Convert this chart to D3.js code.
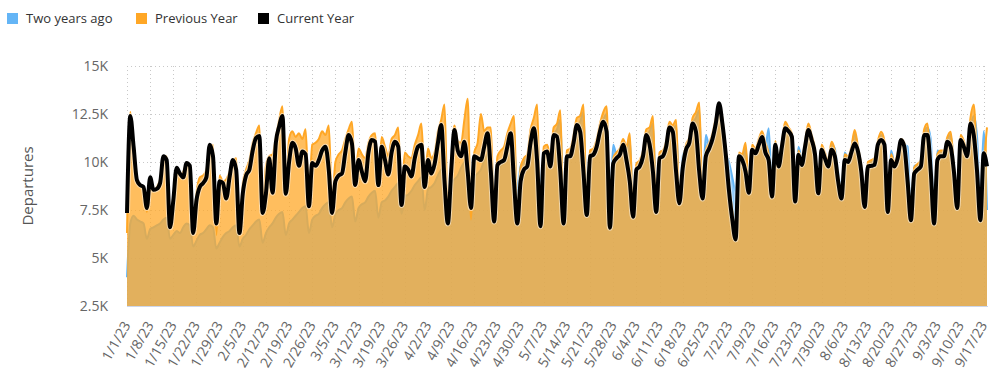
<!DOCTYPE html>
<html>
<head>
<meta charset="utf-8">
<script src="https://cdn.jsdelivr.net/npm/d3@7"></script>
<style>
  body { margin: 0; background: #fff; }
  svg { font-family: "Open Sans", sans-serif; }
  .grid line { stroke: #c8c8c8; stroke-dasharray: 1,3; }
  .ylab { font-size: 14px; fill: #666; }
  .xlab { font-size: 14px; fill: #666; }
  .legend text { font-size: 13px; fill: #333; }
</style>
</head>
<body>
<svg id="chart" width="1000" height="384"></svg>
<script>
// daily departures, 1/1/23 .. 9/18/23
var startDay = "2023-01-01", endDay = "2023-09-18";

var currentYear = [
7340,12400,10800,9060,8800,8700,7600,
9200,8550,8600,8900,10300,10100,6600,
8000,9700,9400,9200,9950,9800,6300,
8000,8700,8900,9200,10900,10300,6800,
9000,8900,8100,9200,10100,9600,6300,
8350,9300,9600,10600,11250,11350,7350,
8350,10200,8400,11000,11850,12400,8350,
10000,11000,10700,9800,10550,10400,7700,
9950,9800,10100,10600,10800,9600,7350,
9000,9300,9400,10500,11400,10970,8800,
10100,9500,9000,10500,11150,11060,8800,
10800,10100,9350,10500,11060,10800,7760,
9770,9600,9250,10200,10800,10900,8700,
10100,9400,9900,11000,11930,9000,6800,
9500,11670,10600,10300,11060,9500,7600,
10300,10200,10100,10800,11500,9500,6900,
9850,10000,10100,10800,11500,9000,6800,
9000,9600,9770,11000,11760,10000,6660,
10450,10550,9770,11400,11320,9500,6800,
10300,10300,11000,11930,11580,9500,7240,
10300,10380,10800,11600,12100,11580,6580,
9930,10200,10380,10900,10100,9000,7150,
9600,9770,10300,11400,10900,9500,7400,
10200,10300,10800,11800,11580,9500,7850,
9680,10640,11000,12000,11580,9500,8100,
10300,10700,11200,12000,13060,12000,10450,
8500,7000,5970,10300,10100,9500,8400,
10640,10450,10900,11300,10500,10100,8200,
10900,9770,10800,11760,11600,11320,7940,
10380,9850,10800,11670,11150,10400,8370,
10640,10200,9770,10640,10300,9000,8100,
10100,10000,10500,10970,10550,9500,7660,
9770,9800,9850,10900,11150,10900,7400,
10100,9770,10200,11150,10800,9000,6970,
9400,9600,9770,11400,11400,9500,6800,
10100,10300,10300,11060,10800,9500,7600,
11150,10800,10300,12000,11400,9500,6970,
10450,9770
];

var previousYear = [
6300,12600,10500,9100,8800,8600,7400,
8700,8500,8700,9100,10100,10300,7200,
8200,9500,9300,9500,9900,9900,6600,
8400,9200,9300,9600,10600,10900,6200,
9300,9000,9100,9500,10000,10200,6700,
8900,9600,10100,11000,11500,11900,7700,
9800,10300,10400,11300,12200,12900,8800,
11200,11600,11300,11500,11200,11700,8200,
10900,11000,11200,11600,11400,11900,8000,
10000,10400,10600,11200,11700,12100,9200,
10700,10400,10200,11000,11400,11500,9200,
11300,10800,10300,11200,11400,11800,8300,
10500,10300,10200,10900,11400,12000,9000,
10700,10200,10500,11600,12200,13000,7200,
10100,11900,11100,11000,12200,13300,7000,
10500,11000,12500,11600,11800,11800,7200,
10300,10600,10800,11500,12000,12400,7100,
9700,10200,10400,11700,12300,13000,7000,
10800,10900,10400,11800,12000,12700,7100,
10600,10700,11400,12300,12400,13000,7500,
10600,10700,11200,12000,12600,12900,6900,
10200,10500,10700,11200,10800,11500,7400,
9900,10100,10600,11700,11800,12400,7700,
10500,10600,11100,12100,11900,12200,8100,
10000,10900,11300,12300,12600,13100,8400,
10600,11000,11500,12300,12800,12300,10600,
8800,7500,6400,10500,10400,11000,8700,
10900,10700,11200,11600,11000,10400,8500,
11100,10100,11100,12100,11800,11500,8200,
10600,10100,11100,12000,11400,10700,8600,
10900,10500,10100,11060,10600,9300,8400,
10400,10300,10800,11670,10800,9800,7900,
10000,10100,10200,11100,11580,11100,7700,
10400,10000,10500,11200,11000,9300,7200,
9700,9900,10100,11700,12000,9800,7000,
10400,10600,10600,11300,11580,9800,7800,
11400,11100,10600,12300,13000,9800,7100,
9800,11800
];

var twoYearsAgo = [
4000,6800,7200,7000,6900,6800,6000,
6500,6600,6700,6800,7000,7100,6000,
6200,6400,6300,6600,6800,6700,5600,
5900,6200,6300,6500,6700,6600,5500,
5800,6100,6300,6400,6600,6700,5600,
6000,6200,6500,6700,6900,7000,5800,
6300,6600,6800,7100,7300,7400,6200,
6800,7000,7200,7400,7600,7700,6300,
7000,7200,7300,7600,7800,7900,6600,
7300,7500,7600,7900,8100,8200,6900,
7600,7800,7900,8200,8400,8500,7100,
7900,8000,8200,8500,8700,8900,7300,
8200,8300,8500,8800,9000,9200,7500,
8600,8700,8900,9300,9600,9700,7800,
8900,9100,9300,9700,10000,10200,8000,
9200,9400,9600,10100,10400,10600,8200,
9600,9800,10000,10500,10800,11000,8500,
9800,10000,10300,10900,11200,11500,8700,
10400,10600,10200,11400,11700,12200,7600,
10300,10500,11100,11900,12100,12600,7900,
10300,10500,11000,11700,12200,12500,7700,
10900,10400,10500,11000,10700,11200,7800,
9700,10000,10400,11400,11600,12000,8000,
10300,10400,10900,11800,11700,11900,8300,
10300,10700,11100,12000,12300,12700,8600,
11400,10900,11300,12100,12500,12100,10500,
10000,9200,8500,10300,10300,10700,8800,
10700,10500,11000,11500,10800,11760,8700,
10900,10000,11000,11900,11600,11400,8500,
10800,10200,11000,11800,11200,10600,8700,
10700,10400,10000,10900,10700,9500,8600,
10500,10200,10700,11500,10700,9800,8000,
9900,10000,10100,11000,11400,11000,7800,
10600,10000,10400,11100,10900,10800,7400,
9800,9800,10000,11500,11800,11200,7300,
10600,10500,10500,11200,11400,9900,7900,
11000,10700,10400,11800,12400,11300,7800,
11600,7500
];

var yTicks = [2500, 5000, 7500, 10000, 12500, 15000];
var xTickLabels = ["1/1/23","1/8/23","1/15/23","1/22/23","1/29/23","2/5/23","2/12/23","2/19/23","2/26/23",
  "3/5/23","3/12/23","3/19/23","3/26/23","4/2/23","4/9/23","4/16/23","4/23/23","4/30/23","5/7/23",
  "5/14/23","5/21/23","5/28/23","6/4/23","6/11/23","6/18/23","6/25/23","7/2/23","7/9/23","7/16/23",
  "7/23/23","7/30/23","8/6/23","8/13/23","8/20/23","8/27/23","9/3/23","9/10/23","9/17/23"];

var series = [
  { name: "Two years ago", color: "#64B5F6", values: twoYearsAgo },
  { name: "Previous Year", color: "#FFA726", values: previousYear },
  { name: "Current Year", color: "#000000", values: currentYear }
];

(function draw() {
  var parse = d3.timeParse("%Y-%m-%d");
  var days = d3.timeDay.range(parse(startDay), d3.timeDay.offset(parse(endDay), 1));
  var tickDates = xTickLabels.map(function(s) { return d3.timeParse("%m/%d/%y")(s); });

  var svg = d3.select("#chart");
  var pLeft = 127, pRight = 987, pTop = 66, pBottom = 306;

  var x = d3.scaleTime().domain([days[0], days[days.length - 1]]).range([pLeft, pRight]);
  var y = d3.scaleLinear().domain([2500, 15000]).range([pBottom, pTop]);

  // grid
  var grid = svg.append("g").attr("class", "grid");
  grid.selectAll(".hg").data(yTicks).enter().append("line")
    .attr("x1", pLeft).attr("x2", pRight)
    .attr("y1", function(d) { return y(d) + 0.5; }).attr("y2", function(d) { return y(d) + 0.5; });
  grid.selectAll(".vg").data(tickDates).enter().append("line")
    .attr("x1", function(d) { return Math.round(x(d)) + 0.5; })
    .attr("x2", function(d) { return Math.round(x(d)) + 0.5; })
    .attr("y1", pTop).attr("y2", pBottom);

  var curve = d3.curveMonotoneX;

  function drawArea(s, fillOp) {
    var pts = s.values.map(function(v, i) { return [days[i], v]; });
    var area = d3.area().curve(curve)
      .x(function(d) { return x(d[0]); })
      .y0(pBottom)
      .y1(function(d) { return y(d[1]); });
    var line = d3.line().curve(curve)
      .x(function(d) { return x(d[0]); })
      .y(function(d) { return y(d[1]); });
    svg.append("path").datum(pts).attr("d", area)
      .attr("fill", s.color).attr("fill-opacity", fillOp);
    svg.append("path").datum(pts).attr("d", line)
      .attr("fill", "none").attr("stroke", s.color).attr("stroke-width", 2);
  }

  drawArea(series[0], 0.72);
  drawArea(series[1], 0.74);

  // current year line
  var cur = series[2].values.map(function(v, i) { return [days[i], v]; });
  var curLine = d3.line().curve(curve)
    .x(function(d) { return x(d[0]); })
    .y(function(d) { return y(d[1]); });
  svg.append("path").datum(cur).attr("d", curLine)
    .attr("fill", "none").attr("stroke", "#fff").attr("stroke-opacity", 0.5)
    .attr("stroke-width", 6).attr("stroke-linejoin", "round");
  svg.append("path").datum(cur).attr("d", curLine)
    .attr("fill", "none").attr("stroke", "#000")
    .attr("stroke-width", 4).attr("stroke-linejoin", "round");

  // axis line
  svg.append("line").attr("x1", pLeft).attr("x2", pRight + 1)
    .attr("y1", pBottom + 0.5).attr("y2", pBottom + 0.5)
    .attr("stroke", "#ccd6eb");

  // y labels
  svg.selectAll(".ylab").data(yTicks).enter().append("text")
    .attr("class", "ylab")
    .attr("x", 108).attr("y", function(d) { return y(d); })
    .attr("dy", "0.35em").attr("text-anchor", "end")
    .text(function(d) { return (d / 1000) + "K"; });

  svg.append("text")
    .attr("transform", "translate(33,186) rotate(-90)")
    .attr("text-anchor", "middle")
    .style("font-size", "15px").style("fill", "#555")
    .text("Departures");

  // x labels, steeply rotated
  svg.selectAll(".xlab").data(tickDates).enter().append("text")
    .attr("class", "xlab")
    .attr("text-anchor", "end")
    .attr("transform", function(d) { return "translate(" + (x(d) + 4) + ",325) rotate(-60)"; })
    .text(function(d, i) { return xTickLabels[i]; });

  // legend
  var lg = svg.append("g").attr("class", "legend");
  var legX = [7, 136, 258];
  series.forEach(function(s, i) {
    lg.append("rect").attr("x", legX[i]).attr("y", 13).attr("width", 11).attr("height", 11)
      .attr("fill", s.color);
    lg.append("text").attr("x", legX[i] + 19).attr("y", 23).text(s.name);
  });
})();
</script>
</body>
</html>
